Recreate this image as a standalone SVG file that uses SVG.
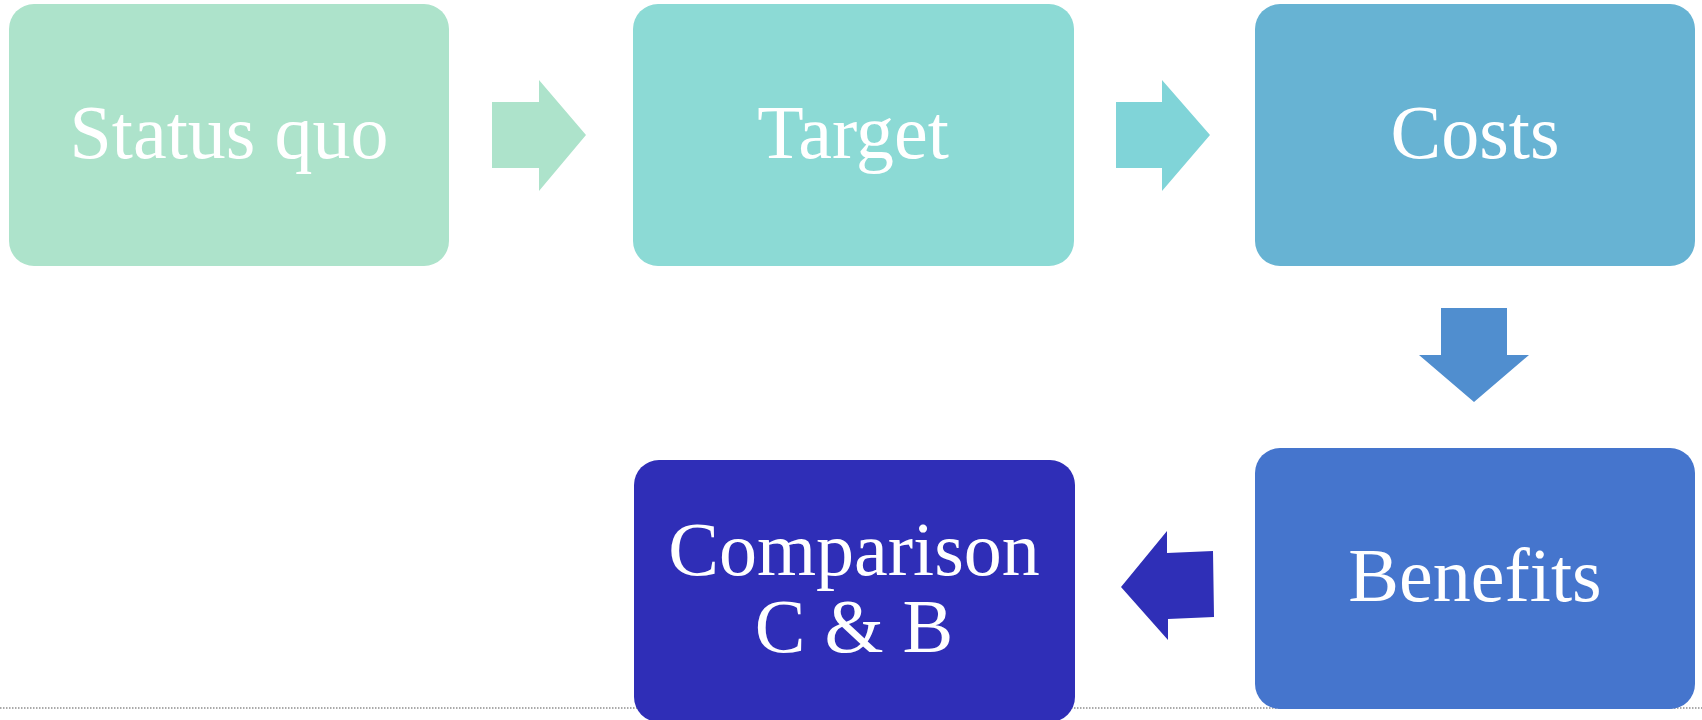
<svg xmlns="http://www.w3.org/2000/svg" width="1702" height="720" viewBox="0 0 1702 720">
<style>
.lbl{font-family:"Liberation Serif","Times New Roman",serif;font-size:76px;fill:#ffffff;text-anchor:middle}
</style>
<rect width="1702" height="720" fill="#ffffff"/>
<line x1="0" y1="708" x2="1702" y2="708" stroke="#8f8f8f" stroke-width="1.5" stroke-dasharray="1.5 1.5"/>
<g id="connectors">
<path d="M492,102 H539 V80 L586,135 L539,191 V168 H492 Z" fill="#ADE3CB"/>
<path d="M1116,102 H1162 V80 L1210,135 L1162,191 V168 H1116 Z" fill="#80D4D8"/>
<path d="M1441,308 H1507 V355 H1529 L1474,402 L1419,355 H1441 Z" fill="#508ECF"/>
<path d="M1121,587 L1167,531 L1167,553 L1213,551 L1214,617 L1168,619 L1168,640 Z" fill="#2F2FB7"/>
</g>
<g id="status-quo">
<rect x="9" y="4" width="440" height="262" rx="25" fill="#ADE3CB"/>
<text class="lbl" x="229" y="158">Status quo</text>
</g>
<g id="target">
<rect x="633" y="4" width="441" height="262" rx="25" fill="#8CDAD5"/>
<text class="lbl" x="853" y="158">Target</text>
</g>
<g id="costs">
<rect x="1255" y="4" width="440" height="262" rx="25" fill="#67B3D3"/>
<text class="lbl" x="1475" y="158">Costs</text>
</g>
<g id="benefits">
<rect x="1255" y="448" width="440" height="261" rx="25" fill="#4575CD"/>
<text class="lbl" x="1475" y="601">Benefits</text>
</g>
<g id="comparison">
<rect x="634" y="460" width="441" height="262" rx="25" fill="#2F2EB7"/>
<text class="lbl" x="854" y="575">Comparison</text>
<text class="lbl" x="854" y="652">C &amp; B</text>
</g>
</svg>
